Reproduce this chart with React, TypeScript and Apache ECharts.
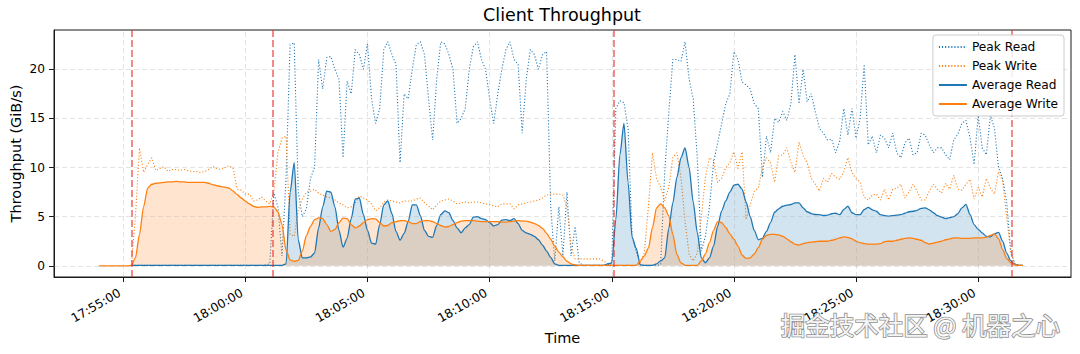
import React, { useEffect, useRef } from "react";
import * as echarts from "echarts";

const FONT = '"DejaVu Sans", sans-serif';
const BLUE = "#1f77b4";
const ORANGE = "#ff7f0e";

// Sampling grid of the measurements
const startClock = "17:54:00";
const stepSeconds = 10;

// Axis extents and ticks
const xMinClock = "17:52:10";
const xMaxClock = "18:33:48";
const xTickLabels = ["17:55:00", "18:00:00", "18:05:00", "18:10:00", "18:15:00", "18:20:00", "18:25:00", "18:30:00"];
const yMin = -1.14;
const yMax = 24.0;
const yTicks = [0, 5, 10, 15, 20];

// Red dashed event markers
const eventTimes = ["17:55:22", "18:01:08", "18:15:05", "18:31:22"];

// GiB/s, one value every 10 s from 17:54:00
const peakRead = [
  null, null, null, null, null, null, null, null, 0.05, 0.05,
  0.05, 0.05, 0.05, 0.05, 0.05, 0.05, 0.05, 0.05, 0.05, 0.05,
  0.05, 0.05, 0.05, 0.05, 0.05, 0.05, 0.05, 0.05, 0.05, 0.05,
  0.05, 0.05, 0.05, 0.05, 0.05, 0.05, 0.05, 0.05, 0.05, 0.05,
  0.05, 0.1, 0.2, 7.4, 6.0, 1.0, 9.0, 22.5, 22.7, 7.5,
  5.0, 5.8, 8.9, 10.0, 21.0, 18.0, 21.2, 21.3, 20.0, 19.0,
  11.0, 18.8, 17.5, 22.0, 21.5, 20.0, 22.6, 17.0, 14.5, 16.0,
  22.0, 22.8, 21.5, 20.5, 10.5, 17.5, 17.0, 20.0, 22.5, 22.8,
  21.5, 17.0, 12.8, 19.0, 22.8, 22.6, 21.5, 20.0, 14.5, 15.0,
  16.0, 20.0, 22.3, 22.8, 21.0, 20.0, 17.0, 14.5, 17.5, 20.0,
  22.0, 22.8, 21.0, 20.5, 13.5, 19.0, 22.0, 21.5, 20.0, 21.5,
  21.8, 6.0, 0.5, 6.0, 1.0, 7.5, 1.0, 4.0, 0.3, 0.05,
  0.05, 0.05, 0.05, 0.05, 0.05, 0.1, 0.3, 16.0, 16.8, 16.6,
  14.0, 3.0, 1.5, 0.1, 0.05, 0.05, 0.05, 0.05, 0.1, 9.5,
  15.5, 21.0, 21.0, 20.8, 22.8, 19.0, 17.0, 11.0, 1.5, 3.0,
  6.0, 10.5, 12.5, 14.5, 16.5, 17.5, 21.8, 21.0, 18.7, 18.4,
  18.0, 16.5, 16.0, 9.0, 13.2, 11.5, 15.0, 14.6, 15.7, 14.8,
  16.5, 21.5, 16.5, 20.0, 16.7, 17.5, 15.7, 14.0, 13.5, 12.8,
  12.9, 11.5, 12.7, 16.0, 13.3, 16.0, 13.0, 15.0, 20.5, 12.3,
  13.2, 11.5, 13.3, 13.0, 12.0, 13.5, 11.5, 11.0, 12.5, 13.0,
  11.3, 11.5, 13.5, 13.3, 12.3, 11.5, 12.0, 12.0, 11.3, 10.8,
  12.8, 13.4, 14.5, 14.8, 13.0, 10.3, 15.3, 12.0, 11.3, 15.3,
  14.0, 10.0, 8.9, 6.5, 1.5, 0.2, 0.05, 0.05,
];

const peakWrite = [
  null, null, null, null, null, null, null, null, 0.1, 5.0,
  12.0, 9.5, 10.3, 11.0, 9.7, 9.9, 10.1, 9.6, 9.8, 9.8,
  9.7, 9.8, 9.7, 9.6, 9.6, 9.5, 9.6, 9.8, 10.1, 9.9,
  9.8, 10.0, 10.2, 9.9, 7.8, 7.7, 7.3, 7.3, 6.6, 6.7,
  7.0, 6.6, 6.3, 7.5, 11.5, 13.0, 13.2, 3.2, 3.0, 5.7,
  6.8, 7.5, 7.6, 7.8, 7.4, 7.2, 7.0, 6.9, 6.7, 6.4,
  6.2, 5.9, 6.0, 6.4, 7.1, 6.9, 6.7, 6.3, 5.6, 5.9,
  6.5, 6.7, 6.6, 6.5, 6.4, 6.6, 6.6, 6.6, 6.8, 6.9,
  6.4, 6.1, 5.7, 6.2, 6.6, 6.7, 6.8, 6.6, 6.3, 6.4,
  6.5, 6.4, 6.5, 6.5, 6.4, 6.3, 6.2, 6.1, 6.0, 6.3,
  6.3, 6.3, 5.8, 6.2, 6.3, 6.4, 6.5, 6.6, 6.7, 6.9,
  7.2, 7.3, 7.3, 7.3, 7.2, 6.0, 2.0, 0.7, 0.7, 0.7,
  0.7, 0.7, 0.7, 0.7, 0.5, 0.2, 0.1, 0.05, 0.05, 0.05,
  0.05, 0.05, 0.05, 0.3, 1.3, 6.0, 11.5, 8.9, 8.0, 6.6,
  8.0, 11.0, 11.5, 9.0, 4.5, 1.2, 0.5, 1.3, 5.0, 9.0,
  11.0, 10.7, 8.5, 8.9, 10.0, 10.5, 11.6, 9.9, 11.6, 4.7,
  6.2, 7.6, 7.9, 10.0, 11.0, 10.5, 8.5, 11.2, 11.3, 12.0,
  10.5, 9.5, 12.6, 11.2, 10.5, 8.9, 8.3, 7.6, 8.9, 8.5,
  9.4, 9.0, 8.8, 9.6, 11.0, 9.5, 8.9, 8.5, 7.0, 6.7,
  7.2, 7.3, 6.7, 7.8, 6.7, 7.8, 7.9, 8.3, 6.9, 7.5,
  8.3, 7.6, 6.7, 6.7, 7.6, 8.3, 7.8, 7.4, 8.4, 7.8,
  9.2, 7.8, 7.7, 8.3, 8.8, 6.8, 8.0, 7.0, 8.9, 7.9,
  7.3, 9.6, 8.6, 5.0, 1.3, 0.2, 0.05, 0.05,
];

const averageRead = [
  null, null, null, null, null, null, null, null, 0.05, 0.05,
  0.05, 0.05, 0.05, 0.05, 0.05, 0.05, 0.05, 0.05, 0.05, 0.05,
  0.05, 0.05, 0.05, 0.05, 0.05, 0.05, 0.05, 0.05, 0.05, 0.05,
  0.05, 0.05, 0.05, 0.05, 0.05, 0.05, 0.05, 0.05, 0.05, 0.05,
  0.05, 0.05, 0.05, 0.05, 0.05, 0.05, 0.2, 7.5, 10.5, 2.6,
  0.8, 0.8, 0.9, 1.3, 3.86, 6.0, 7.6, 7.5, 6.0, 3.6,
  1.9, 2.8, 4.8, 6.8, 6.9, 5.2, 3.6, 2.3, 2.2, 4.2,
  6.2, 6.6, 5.3, 3.5, 2.6, 3.3, 4.5, 6.2, 6.2, 5.1,
  3.6, 3.0, 2.9, 4.1, 5.2, 5.6, 5.4, 4.6, 3.86, 3.36,
  3.86, 4.2, 4.95, 5.0, 4.8, 4.7, 4.4, 4.05, 4.2, 4.65,
  4.7, 4.6, 4.8, 4.3, 3.6, 3.35, 3.2, 3.0, 2.65, 2.1,
  1.5, 0.85, 0.2, 0.05, 0.05, 0.05, 0.05, 0.05, 0.05, 0.05,
  0.05, 0.05, 0.05, 0.05, 0.05, 0.2, 0.3, 4.7, 11.3, 14.5,
  8.5, 2.9, 1.8, 0.1, 0.05, 0.05, 0.05, 0.2, 0.5, 0.8,
  3.8, 6.4, 9.0, 11.0, 12.0, 10.0, 6.5, 3.4, 0.8, 0.3,
  0.8, 2.0, 4.0, 5.6, 6.6, 7.5, 8.2, 8.3, 7.8, 6.5,
  5.0, 3.6, 2.65, 2.8, 3.5, 4.4, 5.45, 5.8, 6.06, 6.17,
  6.24, 6.4, 6.4, 5.9, 5.5, 5.32, 5.22, 5.2, 5.12, 5.15,
  5.3, 5.35, 5.2, 5.73, 6.06, 5.4, 5.2, 5.2, 5.73, 5.95,
  5.7, 5.55, 5.2, 5.1, 5.05, 5.1, 5.15, 5.2, 5.35, 5.5,
  5.55, 5.65, 5.85, 5.9, 5.7, 5.4, 5.1, 4.95, 4.8, 4.9,
  5.0, 5.3, 5.9, 6.25, 5.2, 4.2, 3.7, 3.35, 3.0, 2.95,
  3.25, 3.4, 2.5, 1.3, 0.5, 0.15, 0.05, 0.05,
];

const averageWrite = [
  0, 0, 0, 0, 0, 0, 0, 0, 0.05, 0.8,
  3.2, 6.0, 7.9, 8.3, 8.4, 8.45, 8.5, 8.55, 8.55, 8.6,
  8.55, 8.55, 8.5, 8.5, 8.5, 8.5, 8.5, 8.4, 8.25, 8.15,
  8.05, 8.0, 7.9, 7.6, 7.25, 6.9, 6.6, 6.3, 6.05, 5.95,
  6.0, 6.0, 6.05, 6.0, 5.5, 4.2, 1.6, 0.6, 0.45, 0.55,
  1.5, 3.1, 4.0, 4.7, 4.88, 4.8, 4.2, 3.5, 3.7, 4.4,
  4.85, 4.8, 4.2, 3.86, 4.05, 4.4, 4.7, 4.8, 4.77, 4.4,
  4.05, 4.1, 4.4, 4.5, 4.6, 4.6, 4.5, 4.3, 4.3, 4.5,
  4.6, 4.6, 4.5, 4.3, 4.1, 3.95, 4.0, 4.2, 4.4, 4.55,
  4.6, 4.6, 4.6, 4.55, 4.5, 4.5, 4.5, 4.5, 4.5, 4.45,
  4.45, 4.5, 4.55, 4.6, 4.55, 4.55, 4.45, 4.3, 4.1, 3.8,
  3.3, 2.7, 2.0, 1.4, 0.9, 0.45, 0.2, 0.1, 0.05, 0.05,
  0.05, 0.05, 0.05, 0.05, 0.05, 0.05, 0.05, 0.05, 0.05, 0.05,
  0.05, 0.05, 0.05, 0.5, 1.0, 1.8, 3.9, 5.9, 6.3, 5.9,
  5.1, 3.2, 1.15, 0.3, 0.05, 0.05, 0.05, 0.05, 0.5, 1.2,
  2.35, 3.6, 4.5, 4.4, 3.9, 3.25, 2.7, 2.0, 1.1, 0.75,
  0.8, 1.2, 1.85, 2.7, 3.1, 3.2, 3.2, 3.15, 3.0, 2.75,
  2.45, 2.2, 2.1, 2.25, 2.35, 2.4, 2.45, 2.5, 2.5, 2.5,
  2.6, 2.7, 2.85, 2.95, 2.9, 2.75, 2.5, 2.35, 2.25, 2.2,
  2.2, 2.2, 2.25, 2.45, 2.5, 2.5, 2.6, 2.7, 2.8, 2.85,
  2.8, 2.7, 2.6, 2.35, 2.2, 2.3, 2.4, 2.5, 2.65, 2.75,
  2.85, 2.85, 2.8, 2.8, 2.8, 2.85, 2.85, 2.85, 2.9, 3.1,
  3.25, 2.75, 1.65, 0.75, 0.3, 0.1, 0.05, 0.05,
];

const seriesNames = ["Peak Read", "Peak Write", "Average Read", "Average Write"];

function toSec(clock: string): number {
  const [h, m, s] = clock.split(":").map(Number);
  return h * 3600 + m * 60 + s;
}
function fmtClock(sec: number): string {
  const p = (n: number) => String(Math.floor(n)).padStart(2, "0");
  return `${p(sec / 3600)}:${p((sec % 3600) / 60)}:${p(sec % 60)}`;
}
const t0 = toSec(startClock);
function pairs(values: (number | null)[]) {
  const out: [number, number][] = [];
  values.forEach((v, i) => {
    if (v !== null) out.push([t0 + i * stepSeconds, v]);
  });
  return out;
}

const xTicks = xTickLabels.map(toSec);

function buildOption() {
  const lineBase = {
    type: "line" as const,
    showSymbol: false,
    symbol: "none",
    silent: true,
    emphasis: { disabled: true },
  };
  return {
    animation: false,
    backgroundColor: "#ffffff",
    textStyle: { fontFamily: FONT },
    title: {
      text: "Client Throughput",
      left: 562,
      top: 6,
      padding: 0,
      textAlign: "center",
      textStyle: { fontSize: 17.5, fontWeight: "normal", color: "#000", fontFamily: FONT },
    },
    grid: {
      left: 54,
      right: 9,
      top: 30,
      bottom: 77,
      containLabel: false,
      outerBoundsMode: "none",
      show: true,
      borderColor: "#1a1a1a",
      borderWidth: 1,
      backgroundColor: "transparent",
    },
    legend: {
      data: seriesNames,
      orient: "vertical",
      right: 16,
      top: 35,
      itemWidth: 28,
      itemHeight: 12,
      itemGap: 7,
      padding: [6, 6, 6, 5],
      backgroundColor: "rgba(255,255,255,0.85)",
      borderColor: "#cccccc",
      borderWidth: 1,
      borderRadius: 3,
      itemStyle: { opacity: 0 },
      textStyle: { fontSize: 12.2, color: "#000", fontFamily: FONT },
      selectedMode: false,
      z: 20,
    },
    xAxis: {
      type: "value",
      min: toSec(xMinClock),
      max: toSec(xMaxClock),
      name: "Time",
      nameLocation: "middle",
      nameGap: 50,
      nameTextStyle: { fontSize: 14.5, color: "#000", fontFamily: FONT },
      axisLine: { show: true, onZero: false, lineStyle: { color: "#1a1a1a", width: 1 } },
      axisTick: { show: true, customValues: xTicks, length: 5, lineStyle: { color: "#1a1a1a", width: 1 } },
      axisLabel: {
        customValues: xTicks,
        rotate: 30,
        margin: 13,
        padding: [0, 4, 0, 0],
        fontSize: 12.2,
        color: "#000",
        fontFamily: FONT,
        formatter: (v: number) => fmtClock(v),
      },
      splitLine: { show: false },
    },
    yAxis: {
      type: "value",
      min: yMin,
      max: yMax,
      name: "Throughput (GiB/s)",
      nameLocation: "middle",
      nameGap: 31,
      nameMoveOverlap: false,
      nameRotate: 90,
      nameTextStyle: { fontSize: 14.5, color: "#000", fontFamily: FONT },
      axisLine: { show: true, lineStyle: { color: "#1a1a1a", width: 1 } },
      axisTick: { show: true, customValues: yTicks, length: 5, lineStyle: { color: "#1a1a1a", width: 1 } },
      axisLabel: {
        customValues: yTicks,
        margin: 9,
        fontSize: 12.2,
        color: "#000",
        fontFamily: FONT,
        formatter: (v: number) => String(Math.round(v)),
      },
      splitLine: { show: false },
    },
    series: [
      {
        ...lineBase,
        name: "_grid",
        data: [],
        z: 1,
        markLine: {
          silent: true,
          symbol: ["none", "none"],
          label: { show: false },
          emphasis: { disabled: true },
          lineStyle: { color: "rgba(170,170,170,0.32)", type: [5, 3], width: 1 },
          data: [...yTicks.map((v) => ({ yAxis: v })), ...xTicks.map((v) => ({ xAxis: v }))],
        },
      },
      {
        ...lineBase,
        name: "Peak Read",
        data: pairs(peakRead),
        z: 3,
        itemStyle: { color: BLUE },
        lineStyle: { color: BLUE, width: 1.1, type: [1.1, 2] },
      },
      {
        ...lineBase,
        name: "Peak Write",
        data: pairs(peakWrite),
        z: 3,
        itemStyle: { color: ORANGE },
        lineStyle: { color: ORANGE, width: 1.1, type: [1.1, 2] },
      },
      {
        ...lineBase,
        name: "Average Read",
        data: pairs(averageRead),
        z: 4,
        smooth: 0.25,
        smoothMonotone: "x",
        itemStyle: { color: BLUE },
        lineStyle: { color: BLUE, width: 1.3 },
        areaStyle: { color: BLUE, opacity: 0.2 },
      },
      {
        ...lineBase,
        name: "Average Write",
        data: pairs(averageWrite),
        z: 4,
        smooth: 0.25,
        smoothMonotone: "x",
        itemStyle: { color: ORANGE },
        lineStyle: { color: ORANGE, width: 1.3 },
        areaStyle: { color: ORANGE, opacity: 0.2 },
      },
      {
        ...lineBase,
        name: "_events",
        data: [],
        z: 6,
        markLine: {
          silent: true,
          symbol: ["none", "none"],
          label: { show: false },
          emphasis: { disabled: true },
          lineStyle: { color: "rgba(232,40,40,0.6)", type: [7, 3], width: 1.8 },
          data: eventTimes.map((t) => ({ xAxis: toSec(t) })),
        },
      },
    ],
    graphic: [
      {
        type: "text",
        left: 780,
        top: 311,
        z: 100,
        silent: true,
        style: {
          text: "掘金技术社区 @ 机器之心",
          fontSize: 24.5,
          fontFamily: '"Noto Sans CJK SC", sans-serif',
          fill: "#f4f4f4",
          stroke: "#8f8f8f",
          lineWidth: 1.6,
        },
      },
    ],
  };
}

export default function App() {
  const ref = useRef<HTMLDivElement>(null);
  useEffect(() => {
    if (!ref.current) return;
    const chart = echarts.init(ref.current, null, { renderer: "svg" });
    chart.setOption(buildOption() as any);
    return () => chart.dispose();
  }, []);
  return (
    <div
      ref={ref}
      style={{ position: "fixed", left: 0, top: 0, width: 1080, height: 354, background: "#fff" }}
    />
  );
}
